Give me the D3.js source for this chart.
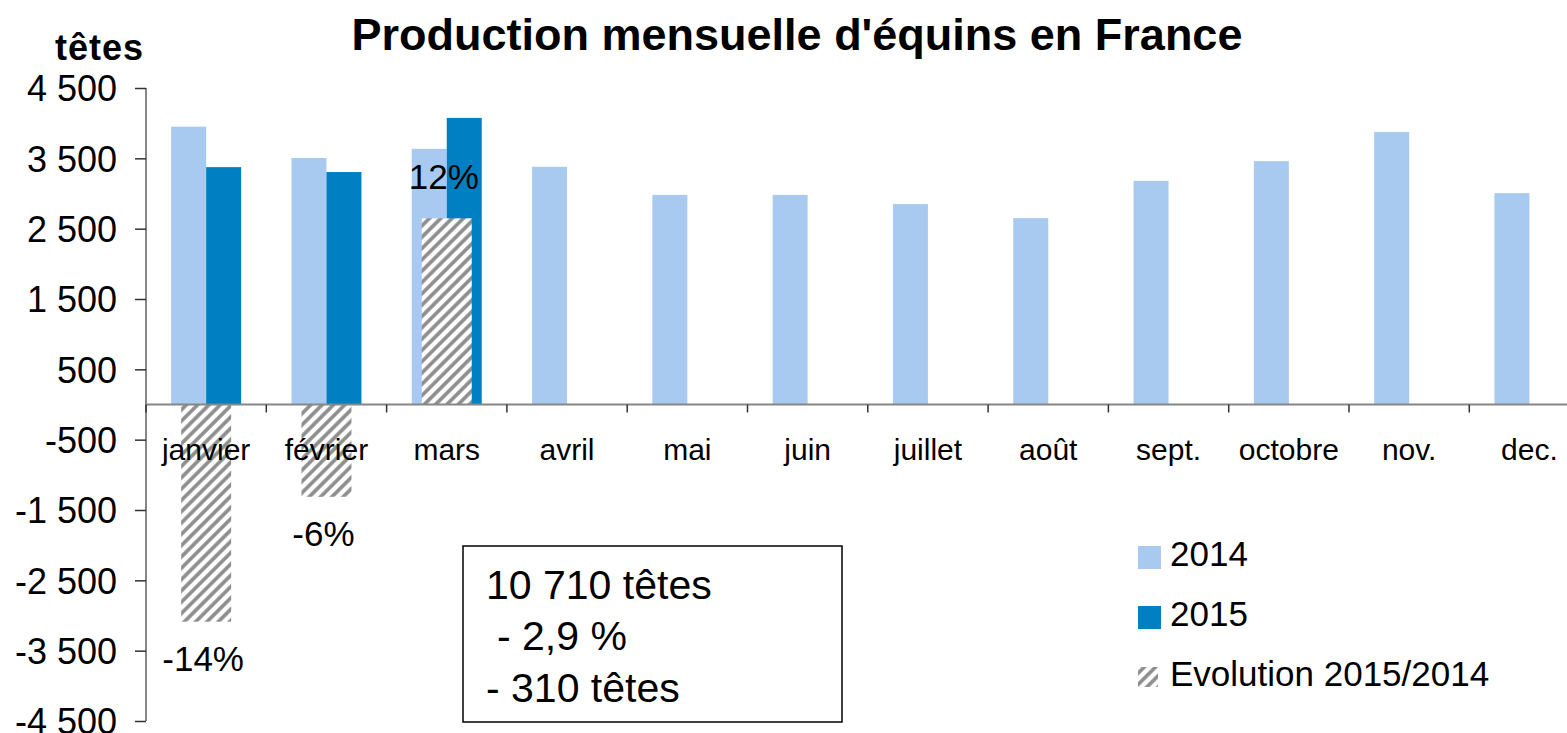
<!DOCTYPE html>
<html>
<head>
<meta charset="utf-8">
<script src="https://cdn.jsdelivr.net/npm/d3@7"></script>
<style>
  body { margin: 0; background: #fff; }
  svg text { font-family: "Liberation Sans", Arial, sans-serif; fill: #000; }
</style>
</head>
<body>
<div id="chart"></div>
<script>
// chart values
var months = ['janvier', 'février', 'mars', 'avril', 'mai', 'juin', 'juillet', 'août', 'sept.', 'octobre', 'nov.', 'dec.'];
var values2014 = [3950, 3505, 3635, 3380, 2980, 2980, 2850, 2650, 3180, 3460, 3875, 3005];
var values2015 = [3375, 3305, 4075];
var evolution = [-14.0, -5.95, 12.0];   // % 2015/2014
var yTicks = [4500, 3500, 2500, 1500, 500, -500, -1500, -2500, -3500, -4500];
var legendLabels = ['2014', '2015', 'Evolution 2015/2014'];
var boxLines = ['10 710 têtes', '- 2,9 %', '- 310 têtes'];

var width = 1567,
  height = 733,
  margin = { top: 88, left: 146, bottom: 12 },
  bandW = 120.3,
  plotH = 633;

var c2014 = '#a9caf0',
  c2015 = '#0080c3',
  axisColor = '#868686';

var svg = d3.select('#chart').append('svg')
  .attr('width', width)
  .attr('height', height);

// hatch pattern for the evolution bars
var defs = svg.append('defs');
var pat = defs.append('pattern')
  .attr('id', 'hatch')
  .attr('patternUnits', 'userSpaceOnUse')
  .attr('width', 8)
  .attr('height', 8)
  .attr('patternTransform', 'rotate(45)');
pat.append('rect').attr('width', 8).attr('height', 8).attr('fill', '#fff');
pat.append('line')
  .attr('x1', 2).attr('y1', 0).attr('x2', 2).attr('y2', 8)
  .attr('stroke', '#8c8c8c')
  .attr('stroke-width', 3.6);

var x = d3.scaleBand()
  .domain(months)
  .range([margin.left, margin.left + bandW * months.length]);

var y = d3.scaleLinear()
  .domain([-4500, 4500])
  .range([margin.top + plotH, margin.top]);

// secondary scale for the percentages
var yEvo = d3.scaleLinear()
  .domain([-20.4, 20.4])
  .range([margin.top + plotH, margin.top]);

var fr = d3.formatLocale({ decimal: ',', thousands: ' ', grouping: [3], currency: ['', ' €'], minus: '-' });
var fmt = fr.format(',d');

// title
svg.append('text')
  .attr('x', 797)
  .attr('y', 50)
  .attr('text-anchor', 'middle')
  .style('font-size', '45px')
  .style('font-weight', 'bold')
  .text("Production mensuelle d'équins en France");

svg.append('text')
  .attr('x', 55)
  .attr('y', 60)
  .style('font-size', '36px')
  .style('font-weight', 'bold')
  .style('letter-spacing', '1px')
  .text('têtes');

// bars
var half = 35;
svg.append('g').selectAll('rect')
  .data(values2014)
  .enter().append('rect')
  .attr('x', function(d, i) { return x(months[i]) + x.bandwidth() / 2 - half; })
  .attr('y', function(d) { return y(d); })
  .attr('width', half)
  .attr('height', function(d) { return y(0) - y(d); })
  .attr('fill', c2014);

svg.append('g').selectAll('rect')
  .data(values2015)
  .enter().append('rect')
  .attr('x', function(d, i) { return x(months[i]) + x.bandwidth() / 2; })
  .attr('y', function(d) { return y(d); })
  .attr('width', half)
  .attr('height', function(d) { return y(0) - y(d); })
  .attr('fill', c2015);

// evolution bars
var evoW = 50;
svg.append('g').selectAll('rect')
  .data(evolution)
  .enter().append('rect')
  .attr('x', function(d, i) { return x(months[i]) + x.bandwidth() / 2 - evoW / 2; })
  .attr('y', function(d) { return Math.min(yEvo(d), yEvo(0)); })
  .attr('width', evoW)
  .attr('height', function(d) { return Math.abs(yEvo(d) - yEvo(0)); })
  .attr('fill', 'url(#hatch)');

svg.append('g').selectAll('text')
  .data(evolution)
  .enter().append('text')
  .attr('x', function(d, i) { return x(months[i]) + x.bandwidth() / 2 - 3; })
  .attr('y', function(d) { return d < 0 ? yEvo(d) + 49 : yEvo(d) - 29; })
  .attr('text-anchor', 'middle')
  .style('font-size', '35px')
  .text(function(d) { return Math.round(d) + '%'; });

// y axis
var yAxis = d3.axisLeft(y)
  .tickValues(yTicks)
  .tickSize(11)
  .tickPadding(18)
  .tickFormat(fmt);

var gy = svg.append('g')
  .attr('transform', 'translate(' + margin.left + ',0)')
  .call(yAxis);
gy.select('.domain').attr('stroke', axisColor).attr('stroke-width', 2)
  .attr('d', 'M0,' + y(4500) + 'V' + y(-4500));
gy.selectAll('.tick line').attr('stroke', '#333').attr('stroke-width', 1.5);
gy.selectAll('.tick text')
  .style('font-size', '36px')
  .style('font-family', '"Liberation Sans", Arial, sans-serif')
  .attr('fill', '#000')
  .attr('dy', '0.36em');

// x axis on the zero line
var gx = svg.append('g')
  .attr('transform', 'translate(0,' + y(0) + ')');
gx.append('line')
  .attr('x1', margin.left)
  .attr('x2', x.range()[1])
  .attr('stroke', axisColor)
  .attr('stroke-width', 2);
gx.selectAll('line.tk')
  .data(months.concat(['end']))
  .enter().append('line')
  .attr('class', 'tk')
  .attr('x1', function(d, i) { return margin.left + i * x.step(); })
  .attr('x2', function(d, i) { return margin.left + i * x.step(); })
  .attr('y1', 0)
  .attr('y2', 8)
  .attr('stroke', '#333')
  .attr('stroke-width', 1.5);
gx.selectAll('text')
  .data(months)
  .enter().append('text')
  .attr('x', function(d) { return x(d) + x.bandwidth() / 2; })
  .attr('y', 55)
  .attr('text-anchor', 'middle')
  .style('font-size', '30px')
  .text(function(d) { return d; });

// legend
var legend = svg.append('g').attr('transform', 'translate(1138,546)');
var swatches = [c2014, c2015, 'url(#hatch)'];
legendLabels.forEach(function(label, i) {
  var s = i === 2 ? 20 : 23;
  legend.append('rect')
    .attr('x', 0)
    .attr('y', i * 60 + (i === 2 ? 1 : 0))
    .attr('width', s)
    .attr('height', s)
    .attr('fill', swatches[i]);
  legend.append('text')
    .attr('x', 32)
    .attr('y', i * 60 + 20)
    .style('font-size', '35px')
    .text(label);
});

// summary box
var box = svg.append('g').attr('transform', 'translate(463,546)');
box.append('rect')
  .attr('width', 379)
  .attr('height', 176)
  .attr('fill', '#fff')
  .attr('stroke', '#000')
  .attr('stroke-width', 1.5);
box.selectAll('text')
  .data(boxLines)
  .enter().append('text')
  .attr('x', function(d, i) { return i === 1 ? 34 : 23; })
  .attr('y', function(d, i) { return 53 + i * 51.3; })
  .style('font-size', '41px')
  .text(function(d) { return d; });
</script>
</body>
</html>
